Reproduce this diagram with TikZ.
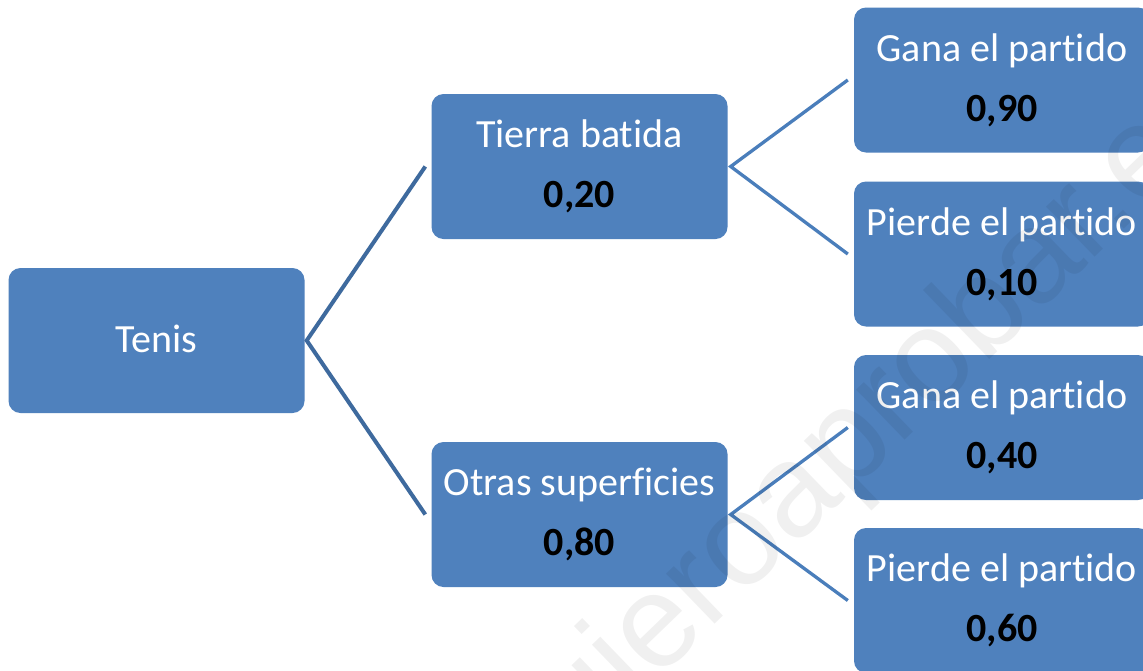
\documentclass[tikz,border=0pt]{standalone}
\usepackage{fontspec}
\setmainfont{Carlito}[Ligatures=NoCommon, RawFeature={-liga;-clig;-calt;-dlig}]
\newfontfamily\wmfont{Liberation Sans}
\definecolor{boxblue}{HTML}{4F81BD}
\definecolor{linedark}{HTML}{3E6A9E}
\definecolor{linelight}{HTML}{4A7EBB}
\tikzset{
  box/.style={fill=boxblue, draw=none, rounded corners=12pt, minimum width=296pt, minimum height=145pt, inner sep=0pt},
  txt/.style={anchor=base, text=white, font=\fontsize{40}{48}\selectfont, inner sep=0pt},
  num/.style={anchor=base, text=black, font=\fontsize{40}{48}\selectfont\bfseries, inner sep=0pt},
  conndark/.style={draw=linedark, line width=4pt},
  connlight/.style={draw=linelight, line width=3.3pt}
}
\begin{document}
\begin{tikzpicture}[x=1pt,y=-1pt]
\useasboundingbox (0,0) rectangle (1143,670);
\clip (0,0) rectangle (1143,670);
\fill[white] (0,0) rectangle (1143,670);
% boxes
\node[box] (tenis) at (156.5,340.5) {};
\node[box] (tb) at (579.5,166.5) {};
\node[box] (os) at (579.5,514.5) {};
\node[box] (g1) at (1002,80) {};
\node[box] (p1) at (1002,254) {};
\node[box] (g2) at (1002,427.5) {};
\node[box] (p2) at (1002,600.5) {};
% texts
\node[txt] at ([yshift=-11.5pt]tenis.center) {Tenis};
\node[txt] at ([yshift=19pt]tb.center) {Tierra bat\kern0pt ida};
\node[num] at ([yshift=-41pt]tb.center) {0,20};
\node[txt] at ([yshift=19pt]os.center) {Otras superf\kern0pt icies};
\node[num] at ([yshift=-41pt]os.center) {0,80};
\node[txt] at ([yshift=19pt]g1.center) {Gana el part\kern0pt ido};
\node[num] at ([yshift=-41pt]g1.center) {0,90};
\node[txt] at ([yshift=19pt]p1.center) {Pierde el part\kern0pt ido};
\node[num] at ([yshift=-41pt]p1.center) {0,10};
\node[txt] at ([yshift=19pt]g2.center) {Gana el part\kern0pt ido};
\node[num] at ([yshift=-41pt]g2.center) {0,40};
\node[txt] at ([yshift=19pt]p2.center) {Pierde el part\kern0pt ido};
\node[num] at ([yshift=-41pt]p2.center) {0,60};
% connectors
\draw[conndark] ([xshift=-6pt]tb.west) -- ([xshift=2pt]tenis.east) -- ([xshift=-6pt]os.west);
\draw[connlight] ([xshift=-6pt]g1.west) -- ([xshift=3pt]tb.east) -- ([xshift=-6pt]p1.west);
\draw[connlight] ([xshift=-6pt]g2.west) -- ([xshift=3pt]os.east) -- ([xshift=-6pt]p2.west);
% watermark
\node[rotate=44, text=black, text opacity=0.06, font=\wmfont\fontsize{132}{140}\selectfont, inner sep=0pt] (wm) at (862,435) {quieroaprobar.es};
\end{tikzpicture}
\end{document}
